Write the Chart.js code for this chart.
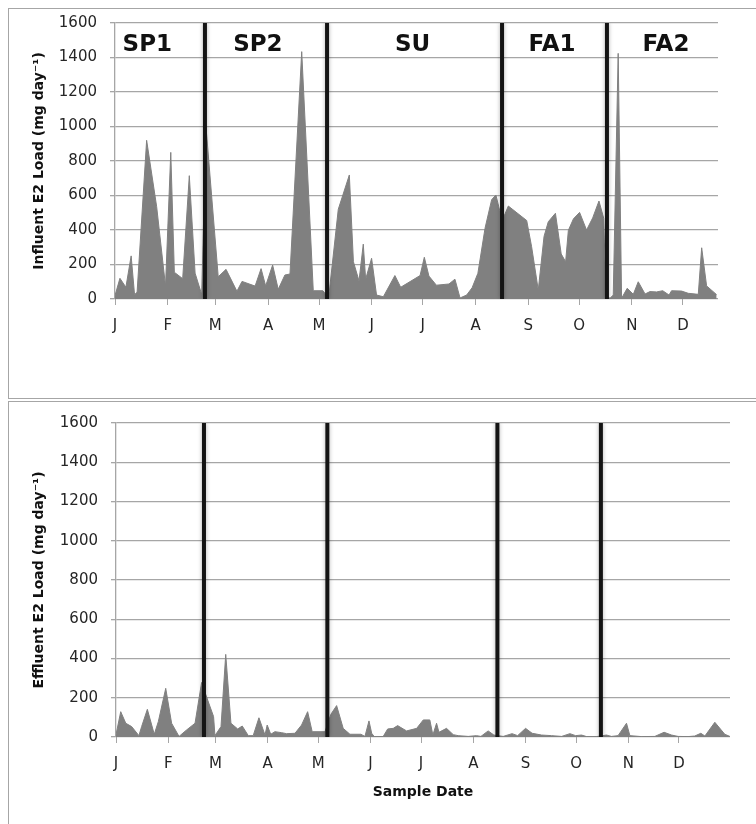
<!DOCTYPE html>
<html>
<head>
<meta charset="utf-8">
<script src="https://cdn.jsdelivr.net/npm/chart.js@4.4.1/dist/chart.umd.min.js"></script>
<style>
  html, body { margin: 0; padding: 0; background: #fff; }
  body { position: relative; width: 756px; height: 824px; overflow: hidden; }
  .frame { position: absolute; border: 1px solid #a6a6a6; box-sizing: border-box; }
  #frame-top { left: 8px; top: 8px; width: 800px; height: 391px; }
  #frame-bottom { left: 8px; top: 401px; width: 800px; height: 440px; }
  canvas { position: absolute; left: 0; }
  #influent-chart { top: 0; }
  #effluent-chart { top: 400px; }
</style>
</head>
<body>
<div class="frame" id="frame-top"></div>
<div class="frame" id="frame-bottom"></div>
<canvas id="influent-chart" width="756" height="398"></canvas>
<canvas id="effluent-chart" width="756" height="424"></canvas>
<script>
// Sample dates as day of year (0 = 1 Jan), loads in mg/day
const monthStarts = [0, 31, 59, 90, 120, 151, 181, 212, 243, 273, 304, 334];
const monthLabels = ['J', 'F', 'M', 'A', 'M', 'J', 'J', 'A', 'S', 'O', 'N', 'D'];

const seasonNames = ['SP1', 'SP2', 'SU', 'FA1', 'FA2'];
const seasonLabelDays = [19, 84, 175, 257, 324];

const influentDays = [0, 2.9, 6.4, 9.5, 11.5, 13, 18.6, 24.5, 29.7, 32.8, 34.9, 39.8, 43.7, 47.1, 51, 53.5,
  60.7, 65.3, 71.7, 74.7, 82.4, 85.9, 88.6, 92.7, 96, 99.9, 102.9, 109.8, 116.6, 122.2, 124.1, 126,
  131.3, 137.8, 140.2, 143.5, 146, 147.4, 150.9, 153.8, 157.8, 164.6, 168, 179.4, 181.9, 184.6, 189,
  196.4, 199.9, 202.9, 206.8, 210, 213.4, 217.6, 221.5, 224, 226.3, 228.8, 231.3, 242.1, 245, 248.9,
  252.3, 254.8, 259, 262.4, 265, 266.6, 269.6, 273.2, 277.3, 280.9, 284.6, 287.4, 288.7, 291.1, 293,
  295.9, 297.9, 301.2, 304.8, 307.7, 311.7, 314.6, 318.5, 322.1, 325.8, 327.3, 333.2, 337.1, 343, 345,
  347.9, 353.8];
const influentLoad = [20, 120, 68, 250, 25, 40, 920, 535, 75, 850, 155, 118, 715, 150, 25, 1000,
  129, 172, 45, 102, 75, 176, 76, 197, 56, 139, 145, 1434, 48, 48, 25, 40,
  520, 719, 216, 105, 318, 115, 236, 23, 13, 136, 68, 136, 242, 133, 80,
  87, 115, 6, 23, 65, 149, 410, 576, 603, 510, 480, 539, 455, 303, 52,
  363, 448, 497, 261, 216, 398, 465, 502, 400, 470, 568, 468, 20, 4, 23,
  1424, 4, 62, 27, 100, 29, 43, 41, 48, 23, 48, 46, 33, 27, 297,
  76, 25];
const influentBoundaryDays = [52.9, 124.7, 227.6, 289.3];

const effluentDays = [0, 2.8, 5.8, 9.3, 13.6, 15.2, 18.6, 22.7, 25.1, 29.5, 33, 37.4, 41.9, 46.9, 50.8,
  54.4, 57.9, 58.7, 62.3, 65.1, 68.2, 72.2, 74.9, 78.5, 81.4, 84.8, 88.4, 89.7, 91.8, 94.3, 98.3,
  101.2, 106.2, 110.1, 113.7, 116.4, 124, 127.5, 130.9, 134.8, 138.8, 145.3, 147.7, 150.1, 151.7,
  153.2, 158.5, 161.2, 164.5, 167.1, 172.4, 178.4, 182.3, 186.2, 188, 190.2, 191.6, 196.1, 200.1,
  203, 209, 213.9, 216.5, 220.8, 224.2, 229.7, 235, 238.3, 243, 246.9, 252.5, 258.4, 264.4, 269.3,
  272.7, 276.2, 279.2, 285.1, 291, 294, 297.9, 302.9, 304.9, 311.8, 319.7, 325.2, 329.6, 333.5,
  339.4, 343.4, 347, 349.4, 355.3, 361.2, 364.2];
const effluentLoad = [12, 129, 70, 53, 7, 53, 141, 14, 78, 248, 70, 3, 36, 70, 278,
  188, 104, 7, 53, 421, 70, 41, 56, 7, 7, 98, 10, 61, 14, 27, 22,
  17, 19, 61, 129, 27, 27, 116, 160, 44, 14, 14, 3, 82, 19,
  2, 2, 41, 44, 58, 31, 44, 87, 87, 10, 70, 24, 44, 12,
  7, 3, 7, 3, 31, 10, 3, 17, 7, 44, 19, 10, 7, 3, 17,
  7, 10, 2, 2, 10, 3, 7, 70, 7, 2, 3, 24, 10, 3,
  2, 5, 19, 5, 75, 14, 3];
const effluentBoundaryDays = [52.2, 125.4, 226.3, 287.7];

const FONT = '"DejaVu Sans", sans-serif';
Chart.defaults.font.family = FONT;

// Soft halo behind the black season separators
const boundaryShadow = {
  id: 'boundaryShadow',
  beforeDatasetDraw(chart, args) {
    if (!chart.data.datasets[args.index].isBoundary) return;
    const ctx = chart.ctx;
    ctx.save();
    ctx.shadowColor = 'rgba(0, 0, 0, 0.3)';
    ctx.shadowBlur = 4;
  },
  afterDatasetDraw(chart, args) {
    if (chart.data.datasets[args.index].isBoundary) chart.ctx.restore();
  }
};

// Season names across the top of the influent panel
const seasonText = {
  id: 'seasonText',
  afterDatasetsDraw(chart) {
    const { ctx, scales: { x, y } } = chart;
    ctx.save();
    ctx.font = 'bold 23px ' + FONT;
    ctx.fillStyle = '#111';
    ctx.textAlign = 'center';
    ctx.textBaseline = 'middle';
    seasonNames.forEach((name, i) => {
      ctx.fillText(name, x.getPixelForValue(seasonLabelDays[i]), y.getPixelForValue(1470));
    });
    ctx.restore();
  }
};

function renderLoadChart(canvasId, cfg) {
  const canvas = document.getElementById(canvasId);
  const points = cfg.days.map((d, i) => ({ x: d, y: cfg.loads[i] }));

  const boundarySets = cfg.boundaries.map(d => ({
    data: [{ x: d, y: 0 }, { x: d, y: 1600 }],
    borderColor: '#141414',
    borderWidth: 4,
    pointRadius: 0,
    fill: false,
    order: 0,
    isBoundary: true
  }));

  new Chart(canvas, {
    type: 'line',
    data: {
      datasets: [
        {
          data: points,
          borderColor: '#808080',
          backgroundColor: '#808080',
          borderWidth: 1,
          fill: 'origin',
          pointRadius: 0,
          tension: 0,
          order: 1
        },
        ...boundarySets
      ]
    },
    options: {
      responsive: false,
      animation: false,
      layout: { padding: cfg.padding },
      plugins: {
        legend: { display: false },
        tooltip: { enabled: false }
      },
      scales: {
        x: {
          type: 'linear',
          min: 0,
          max: cfg.xMax,
          afterBuildTicks: scale => {
            scale.ticks = monthStarts.map(v => ({ value: v }));
          },
          afterFit: scale => { scale.height = cfg.xHeight; },
          ticks: {
            autoSkip: false,
            maxRotation: 0,
            padding: 12,
            color: '#262626',
            font: { size: 15 },
            callback: v => monthLabels[monthStarts.indexOf(v)]
          },
          grid: { drawOnChartArea: false, tickLength: 6, color: '#a6a6a6' },
          border: { display: false },
          title: {
            display: !!cfg.xTitle,
            text: cfg.xTitle || '',
            color: '#111',
            font: { size: 14, weight: 'bold' },
            padding: { top: 0, bottom: 6 }
          }
        },
        y: {
          min: 0,
          max: 1600,
          afterFit: scale => { scale.width = cfg.left; },
          ticks: {
            stepSize: 200,
            padding: 13,
            color: '#262626',
            font: { size: 15 },
            callback: v => String(v)
          },
          grid: { color: '#a6a6a6', tickLength: 5, lineWidth: 1.3 },
          border: { display: true, color: '#a6a6a6', width: 1.3 },
          title: {
            display: true,
            text: cfg.yTitle,
            color: '#111',
            font: { size: 14, weight: 'bold' },
            padding: { top: 31, bottom: 0 }
          }
        }
      }
    },
    plugins: cfg.seasons ? [boundaryShadow, seasonText] : [boundaryShadow]
  });
}

renderLoadChart('influent-chart', {
  days: influentDays,
  loads: influentLoad,
  boundaries: influentBoundaryDays,
  xMax: 354.6,
  left: 115,
  xHeight: 40,
  padding: { left: 0, right: 38, top: 23, bottom: 59 },
  yTitle: 'Influent E2 Load (mg day\u207B\u00B9)',
  seasons: true
});

renderLoadChart('effluent-chart', {
  days: effluentDays,
  loads: effluentLoad,
  boundaries: effluentBoundaryDays,
  xMax: 364.3,
  left: 116,
  xHeight: 70,
  padding: { left: 0, right: 26, top: 23, bottom: 17 },
  yTitle: 'Effluent E2 Load (mg day\u207B\u00B9)',
  xTitle: 'Sample Date',
  seasons: false
});
</script>
</body>
</html>
